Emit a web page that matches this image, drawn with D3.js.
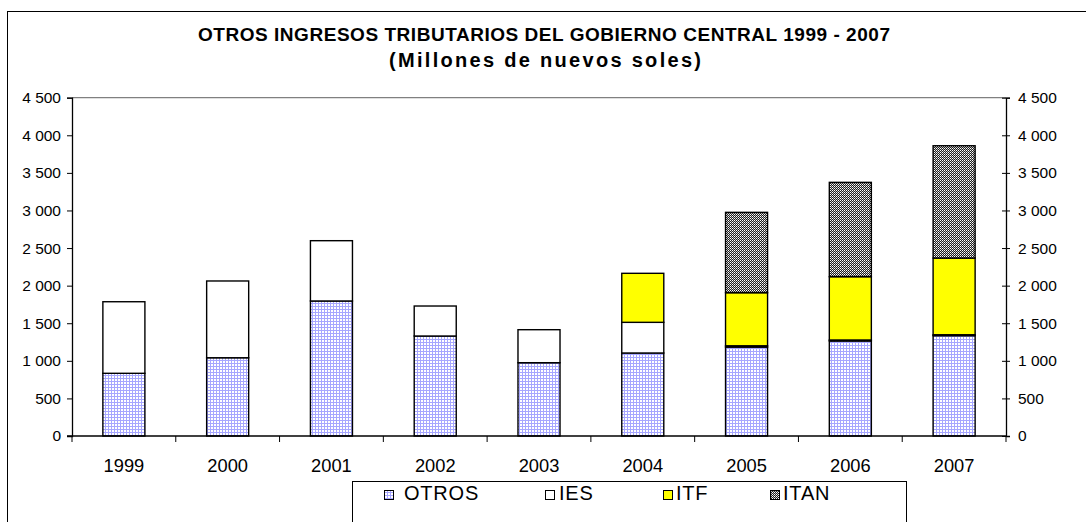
<!DOCTYPE html>
<html>
<head>
<meta charset="utf-8">
<script src="https://cdn.jsdelivr.net/npm/d3@7"></script>
<style>
  html, body { margin: 0; padding: 0; background: #fff; }
  svg { display: block; font-family: "Liberation Sans", Arial, sans-serif; }
</style>
</head>
<body>
<svg id="chart" width="1086" height="522"></svg>
<script>
// ---- Data (millones de nuevos soles) ----
const years = ["1999","2000","2001","2002","2003","2004","2005","2006","2007"];
const otros = [834, 1041, 1796, 1330, 975, 1104, 1182, 1264, 1335];
const ies   = [952, 1021, 802, 399, 439, 408, 18, 13, 12];
const itf   = [0, 0, 0, 0, 0, 652, 706, 842, 1020];
const itan  = [0, 0, 0, 0, 0, 0, 1069, 1255, 1494];
const seriesNames = ["OTROS", "IES", "ITF", "ITAN"];
const yTicks = [0, 500, 1000, 1500, 2000, 2500, 3000, 3500, 4000, 4500];
const titleLines = ["OTROS INGRESOS TRIBUTARIOS DEL GOBIERNO CENTRAL 1999 - 2007", "(Millones de nuevos soles)"];

const svg = d3.select("#chart");
const plot = { left: 72, right: 1006, top: 97.7, bottom: 436 };

// ---- Patterns ----
const defs = svg.append("defs");
const pOtros = defs.append("pattern").attr("id", "pOtros").attr("patternUnits", "userSpaceOnUse")
  .attr("width", 3).attr("height", 3);
pOtros.append("rect").attr("width", 3).attr("height", 3).attr("fill", "#ffffff");
pOtros.append("rect").attr("width", 3).attr("height", 1).attr("fill", "#a6a6ff");
pOtros.append("rect").attr("width", 1).attr("height", 3).attr("fill", "#a6a6ff");

const pItan = defs.append("pattern").attr("id", "pItan").attr("patternUnits", "userSpaceOnUse")
  .attr("width", 2).attr("height", 2);
pItan.append("rect").attr("width", 2).attr("height", 2).attr("fill", "#202020");
pItan.append("rect").attr("x", 0).attr("y", 0).attr("width", 1).attr("height", 1).attr("fill", "#ffffff");
pItan.append("rect").attr("x", 1).attr("y", 1).attr("width", 1).attr("height", 1).attr("fill", "#b8b8b8");

const fills = { OTROS: "url(#pOtros)", IES: "#ffffff", ITF: "#ffff00", ITAN: "url(#pItan)" };

// ---- Outer border ----
svg.append("rect").attr("x", 7.5).attr("y", 11.5).attr("width", 1200).attr("height", 700)
  .attr("fill", "none").attr("stroke", "#000").attr("stroke-width", 1);

// ---- Title ----
svg.append("text").attr("x", 544).attr("y", 41).attr("text-anchor", "middle")
  .attr("font-size", 19).attr("font-weight", "bold")
  .attr("textLength", 692).attr("lengthAdjust", "spacing").text(titleLines[0]);
svg.append("text").attr("x", 545).attr("y", 67).attr("text-anchor", "middle")
  .attr("font-size", 20).attr("font-weight", "bold")
  .attr("textLength", 312).attr("lengthAdjust", "spacing").text(titleLines[1]);

// ---- Scales ----
const x = d3.scaleBand().domain(years).range([plot.left, plot.right])
  .paddingInner(0.595).paddingOuter(0.2975);
const y = d3.scaleLinear().domain([0, 4500]).range([plot.bottom, plot.top]);

// ---- Top plot line ----
svg.append("line").attr("x1", plot.left).attr("x2", plot.right)
  .attr("y1", y(4500)).attr("y2", y(4500)).attr("stroke", "#808080").attr("stroke-width", 1.3);

// ---- Stacked bars ----
const table = years.map((yr, i) => ({ year: yr, OTROS: otros[i], IES: ies[i], ITF: itf[i], ITAN: itan[i] }));
const stacked = d3.stack().keys(seriesNames)(table);

const g = svg.append("g");
stacked.forEach(layer => {
  g.selectAll(null).data(layer.filter(d => d[1] - d[0] > 0)).enter().append("rect")
    .attr("x", d => x(d.data.year))
    .attr("width", x.bandwidth())
    .attr("y", d => y(d[1]))
    .attr("height", d => y(d[0]) - y(d[1]))
    .attr("fill", fills[layer.key])
    .attr("stroke", "#000")
    .attr("stroke-width", 1.4);
});

// ---- Axes ----
const fmt = d => d3.format(",")(d).replace(/,/g, " ");
const leftAxis = d3.axisLeft(y).tickValues(yTicks).tickSize(5).tickPadding(6).tickFormat(fmt);
const gl = svg.append("g").attr("transform", `translate(${plot.left},0)`).call(leftAxis);
gl.select(".domain").attr("stroke", "#000").attr("stroke-width", 1.3);
gl.selectAll(".tick line").attr("stroke", "#000");
gl.selectAll(".tick text").attr("font-size", 15.5).attr("fill", "#000")
  .attr("font-family", "Liberation Sans, Arial, sans-serif");

const rightAxis = d3.axisRight(y).tickValues(yTicks).tickSize(4).tickPadding(8).tickFormat(fmt);
const gr = svg.append("g").attr("transform", `translate(${plot.right},0)`).call(rightAxis);
gr.select(".domain").attr("stroke", "#000").attr("stroke-width", 1.3);
gr.selectAll(".tick line").attr("stroke", "#000").attr("x1", -4);
gr.selectAll(".tick text").attr("font-size", 15.5).attr("fill", "#000")
  .attr("font-family", "Liberation Sans, Arial, sans-serif");

// x axis line
svg.append("line").attr("x1", plot.left - 5).attr("x2", plot.right)
  .attr("y1", plot.bottom).attr("y2", plot.bottom).attr("stroke", "#000").attr("stroke-width", 1.3);
// band boundary ticks
const bounds = years.map((yr, i) => plot.left + i * x.step()).concat([plot.right]);
svg.selectAll(null).data(bounds).enter().append("line")
  .attr("x1", d => d).attr("x2", d => d)
  .attr("y1", plot.bottom).attr("y2", plot.bottom + 6)
  .attr("stroke", "#000").attr("stroke-width", 1);
// x labels
svg.selectAll(null).data(years).enter().append("text")
  .attr("x", d => x(d) + x.bandwidth() / 2)
  .attr("y", 472)
  .attr("text-anchor", "middle")
  .attr("font-size", 18.3)
  .text(d => d);

// ---- Legend ----
svg.append("rect").attr("x", 352.5).attr("y", 481.5).attr("width", 554).attr("height", 80)
  .attr("fill", "#fff").attr("stroke", "#000").attr("stroke-width", 1);
const swatchX = [384, 545, 663, 770];
const labelX = [404, 559, 676, 783];
const lg = svg.selectAll(null).data(seriesNames).enter().append("g");
lg.append("rect").attr("x", (d, i) => swatchX[i] + 0.5).attr("y", 490.5).attr("width", 9).attr("height", 9)
  .attr("fill", d => fills[d]).attr("stroke", "#000").attr("stroke-width", 1);
lg.append("text").attr("x", (d, i) => labelX[i]).attr("y", 500).attr("font-size", 20)
  .attr("letter-spacing", 0.8).text(d => d);
</script>
</body>
</html>
